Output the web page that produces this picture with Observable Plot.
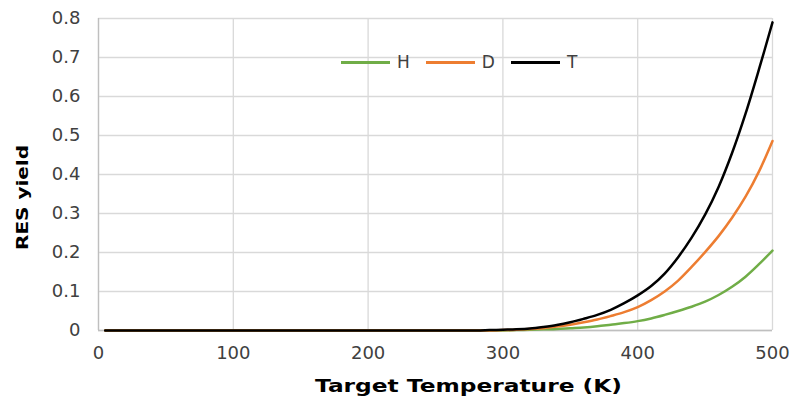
<!DOCTYPE html>
<html>
<head>
<meta charset="utf-8">
<script src="https://cdn.jsdelivr.net/npm/d3@7"></script>
<script src="https://cdn.jsdelivr.net/npm/@observablehq/plot@0.6"></script>
<style>
  html, body { margin: 0; padding: 0; background: #fff; }
  #wrap { position: relative; width: 791px; height: 396px; font-family: "DejaVu Sans", sans-serif; }
  #legend { position: absolute; left: 341px; top: 52px; display: flex; align-items: center; font-size: 17px; color: #404040; }
  #legend .item { display: flex; align-items: center; margin-right: 16px; }
  #legend .sw { display: inline-block; width: 49px; height: 3px; margin-right: 7px; }
</style>
</head>
<body>
<div id="wrap">
  <div id="chart"></div>
  <div id="legend"></div>
</div>
<script>
// Data
const temps = [5, 50, 100, 150, 200, 250, 280, 290, 300, 310, 320, 330, 340, 350, 360, 370, 380, 390, 400, 410, 420, 430, 440, 450, 460, 470, 480, 490, 500];
const yieldH = [0, 0, 0, 0, 0, 0, 0, 0, 0.000, 0.001, 0.002, 0.003, 0.004, 0.006, 0.008, 0.011, 0.015, 0.019, 0.024, 0.031, 0.040, 0.050, 0.061, 0.074, 0.091, 0.112, 0.138, 0.170, 0.205];
const yieldD = [0, 0, 0, 0, 0, 0, 0, 0.000, 0.001, 0.002, 0.004, 0.006, 0.010, 0.015, 0.021, 0.028, 0.037, 0.047, 0.060, 0.078, 0.100, 0.128, 0.163, 0.201, 0.242, 0.289, 0.343, 0.408, 0.486];
const yieldT = [0, 0, 0, 0, 0, 0, 0, 0.001, 0.002, 0.003, 0.005, 0.009, 0.014, 0.021, 0.030, 0.040, 0.053, 0.070, 0.090, 0.114, 0.146, 0.188, 0.238, 0.297, 0.368, 0.455, 0.556, 0.670, 0.790];
const seriesNames = ["H", "D", "T"];
const seriesColors = ["#70ad47", "#ed7d31", "#000000"];
const xTicks = [0, 100, 200, 300, 400, 500];
const yTicks = [0, 0.1, 0.2, 0.3, 0.4, 0.5, 0.6, 0.7, 0.8];
const yTickLabels = ["0", "0.1", "0.2", "0.3", "0.4", "0.5", "0.6", "0.7", "0.8"];
const xLabel = "Target Temperature (K)";
const yLabel = "RES yield";

const seriesValues = [yieldH, yieldD, yieldT];
const rows = [];
seriesNames.forEach((name, i) => {
  temps.forEach((t, j) => rows.push({series: name, temp: t, value: seriesValues[i][j]}));
});

const chart = Plot.plot({
  width: 791,
  height: 396,
  marginLeft: 98,
  marginRight: 19,
  marginTop: 18,
  marginBottom: 66,
  style: {fontFamily: "DejaVu Sans, sans-serif", fontSize: "18px", color: "#404040", background: "#fff"},
  x: {domain: [0, 500]},
  y: {domain: [0, 0.8]},
  color: {domain: seriesNames, range: seriesColors},
  marks: [
    Plot.gridX(xTicks, {stroke: "#d9d9d9", strokeOpacity: 1, strokeWidth: 1.3}),
    Plot.gridY(yTicks, {stroke: "#d9d9d9", strokeOpacity: 1, strokeWidth: 1.3}),
    Plot.axisX({ticks: xTicks, tickSize: 0, tickPadding: 16, label: null, fill: "#404040", fontSize: 18}),
    Plot.axisY({ticks: yTicks, tickSize: 0, tickPadding: 18, label: null, tickFormat: (d) => yTickLabels[yTicks.indexOf(d)], fill: "#404040", fontSize: 18}),
    Plot.ruleX([0], {stroke: "#bfbfbf", strokeWidth: 1.3}),
    Plot.ruleY([0], {stroke: "#bfbfbf", strokeWidth: 1.3}),
    Plot.lineY(rows, {x: "temp", y: "value", stroke: "series", z: "series", strokeWidth: 2.5, curve: "catmull-rom"}),
    Plot.text([xLabel], {frameAnchor: "bottom", lineAnchor: "bottom", textAnchor: "middle", dx: 33, dy: 61, fontWeight: "bold", fontSize: 18, fill: "#000"}),
    Plot.text([yLabel], {frameAnchor: "left", textAnchor: "middle", lineAnchor: "middle", rotate: -90, dx: -76, dy: 23, fontWeight: "bold", fontSize: 16, fill: "#000"})
  ]
});
document.getElementById("chart").appendChild(chart);

// stretch axis titles to the reference's wide bold lettering
d3.select(chart).selectAll("text").each(function() {
  const s = d3.select(this);
  const txt = s.text();
  if (txt === xLabel) s.attr("textLength", 307).attr("lengthAdjust", "spacingAndGlyphs");
  if (txt === yLabel) s.attr("textLength", 105).attr("lengthAdjust", "spacingAndGlyphs");
});

const legend = document.getElementById("legend");
seriesNames.forEach((name, i) => {
  const item = document.createElement("div");
  item.className = "item";
  const sw = document.createElement("span");
  sw.className = "sw";
  sw.style.background = seriesColors[i];
  const label = document.createElement("span");
  label.textContent = name;
  item.appendChild(sw);
  item.appendChild(label);
  legend.appendChild(item);
});
</script>
</body>
</html>
